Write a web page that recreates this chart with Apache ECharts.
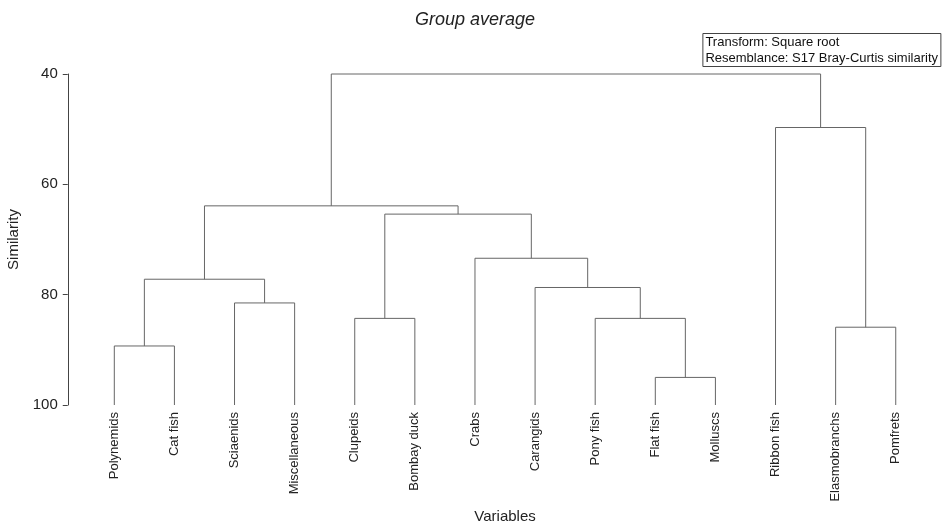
<!DOCTYPE html>
<html>
<head>
<meta charset="utf-8">
<script src="https://cdn.jsdelivr.net/npm/echarts@6/dist/echarts.min.js"></script>
<style>html,body{margin:0;padding:0;background:#fff}#c{width:943px;height:525px}</style>
</head>
<body>
<div id="c"></div>
<script>
// Leaves (left to right)
var leaves = ['Polynemids','Cat fish','Sciaenids','Miscellaneous','Clupeids','Bombay duck','Crabs','Carangids','Pony fish','Flat fish','Molluscs','Ribbon fish','Elasmobranchs','Pomfrets'];
// Merges: index < 14 = leaf, index >= 14 = earlier merge (14 + merge number)
var mergeLeft   = [9, 0, 12, 4, 8, 2, 7, 15, 6, 17, 21, 11, 24];
var mergeRight  = [10, 1, 13, 5, 14, 3, 18, 19, 20, 22, 23, 16, 25];
var mergeHeight = [95.0, 89.3, 85.9, 84.3, 84.3, 81.5, 78.7, 77.2, 73.4, 65.4, 63.9, 49.7, 40.0];
var yTicks = [40, 60, 80, 100];

var n = leaves.length;
var nodeX = [], nodeH = [];
for (var i = 0; i < n; i++) { nodeX.push(i); nodeH.push(100); }
var links = [];
for (var k = 0; k < mergeHeight.length; k++) {
  var a = mergeLeft[k], b = mergeRight[k];
  links.push([nodeX[a], nodeH[a], nodeX[b], nodeH[b], mergeHeight[k]]);
  nodeX.push((nodeX[a] + nodeX[b]) / 2);
  nodeH.push(mergeHeight[k]);
}

var FONT = 'Liberation Sans, Arial, sans-serif';
var chart = echarts.init(document.getElementById('c'));
chart.setOption({
  animation: false,
  backgroundColor: '#fff',
  title: [{
    text: 'Group average',
    left: 475, top: 11, textAlign: 'center', padding: 0,
    textStyle: { fontFamily: FONT, fontSize: 18, fontStyle: 'italic', fontWeight: 'normal', color: '#222' }
  }, {
    text: 'Transform: Square root\nResemblance: S17 Bray-Curtis similarity',
    right: 2, top: 33, padding: [1, 3, 1, 3],
    borderColor: '#444', borderWidth: 1,
    textStyle: { fontFamily: FONT, fontSize: 13, lineHeight: 16, fontWeight: 'normal', color: '#111' }
  }],
  grid: { left: 84.25, right: 17.2, top: 74, bottom: 120, containLabel: false, outerBoundsMode: 'none' },
  xAxis: [{
    type: 'category', data: leaves, boundaryGap: true,
    position: 'bottom',
    axisLine: { show: false }, axisTick: { show: false }, splitLine: { show: false },
    axisLabel: { rotate: 90, margin: 7, interval: 0, fontFamily: FONT, fontSize: 13, color: '#222' },
    name: 'Variables', nameLocation: 'middle', nameGap: 97,
    nameTextStyle: { fontFamily: FONT, fontSize: 15, color: '#222' }
  }, {
    type: 'value', min: -0.5, max: 13.5, show: false
  }],
  yAxis: {
    type: 'value', inverse: true, min: yTicks[0], max: yTicks[yTicks.length - 1], interval: 20,
    offset: 16.5,
    axisLine: { show: true, onZero: false, lineStyle: { color: '#444', width: 1 } },
    axisTick: { show: true, length: 5, lineStyle: { color: '#444' } },
    splitLine: { show: false },
    axisLabel: { margin: 10, fontFamily: FONT, fontSize: 15, color: '#222' },
    name: 'Similarity', nameLocation: 'middle', nameGap: 40, nameRotate: 90,
    nameTextStyle: { fontFamily: FONT, fontSize: 15, color: '#222' }
  },
  series: [{
    type: 'custom',
    coordinateSystem: 'cartesian2d',
    xAxisIndex: 1, yAxisIndex: 0,
    data: links,
    clip: false,
    renderItem: function (params, api) {
      var p1 = api.coord([api.value(0), api.value(1)]);
      var p2 = api.coord([api.value(0), api.value(4)]);
      var p3 = api.coord([api.value(2), api.value(4)]);
      var p4 = api.coord([api.value(2), api.value(3)]);
      return {
        type: 'polyline',
        shape: { points: [p1, p2, p3, p4] },
        style: { stroke: '#666', lineWidth: 1, fill: null }
      };
    }
  }]
});
</script>
</body>
</html>
